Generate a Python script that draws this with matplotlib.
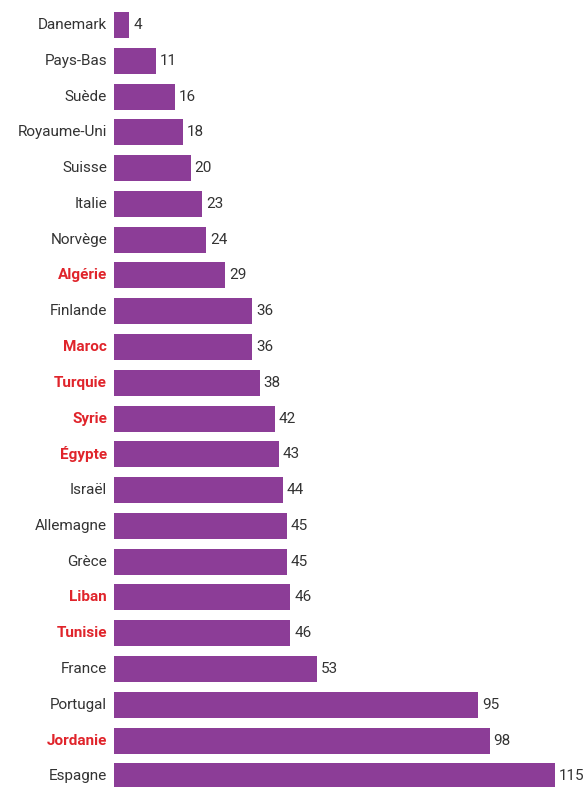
import matplotlib
matplotlib.use("Agg")
import matplotlib.pyplot as plt

countries = ["Danemark", "Pays-Bas", "Suède", "Royaume-Uni", "Suisse", "Italie",
             "Norvège", "Algérie", "Finlande", "Maroc", "Turquie", "Syrie",
             "Égypte", "Israël", "Allemagne", "Grèce", "Liban", "Tunisie",
             "France", "Portugal", "Jordanie", "Espagne"]
values = [4, 11, 16, 18, 20, 23, 24, 29, 36, 36, 38, 42, 43, 44, 45, 45, 46, 46,
          53, 95, 98, 115]
highlighted = ["Algérie", "Maroc", "Turquie", "Syrie", "Égypte", "Liban",
               "Tunisie", "Jordanie"]

PURPLE = "#8C3D97"
RED = "#E0242B"
GRAY = "#333333"

plt.rcParams['font.family'] = ['Roboto', 'DejaVu Sans']

W, H = 583, 787
fig = plt.figure(figsize=(W / 100, H / 100), dpi=100)
left, right = 114 / W, 555 / W
ax = fig.add_axes([left, 0, right - left, 1])

n = len(countries)
ys = list(range(n))
top_c, bot_c = 25.0, 776.3
pitch = (bot_c - top_c) / (n - 1)
ax.barh(ys, values, height=26 / pitch, color=PURPLE)
ax.set_ylim(n - 1 + (H - bot_c) / pitch, -top_c / pitch)
ax.set_xlim(0, 115)

for y, c, v in zip(ys, countries, values):
    hl = c in highlighted
    ax.text(-7 / 3.835, y, c, ha="right", va="center", fontsize=11,
            color=RED if hl else GRAY, fontweight="bold" if hl else "normal")
    ax.text(v + 1.0, y, str(v), ha="left", va="center", fontsize=11,
            color=GRAY, clip_on=False)

ax.axis("off")
fig.savefig("out.png", dpi=100)
